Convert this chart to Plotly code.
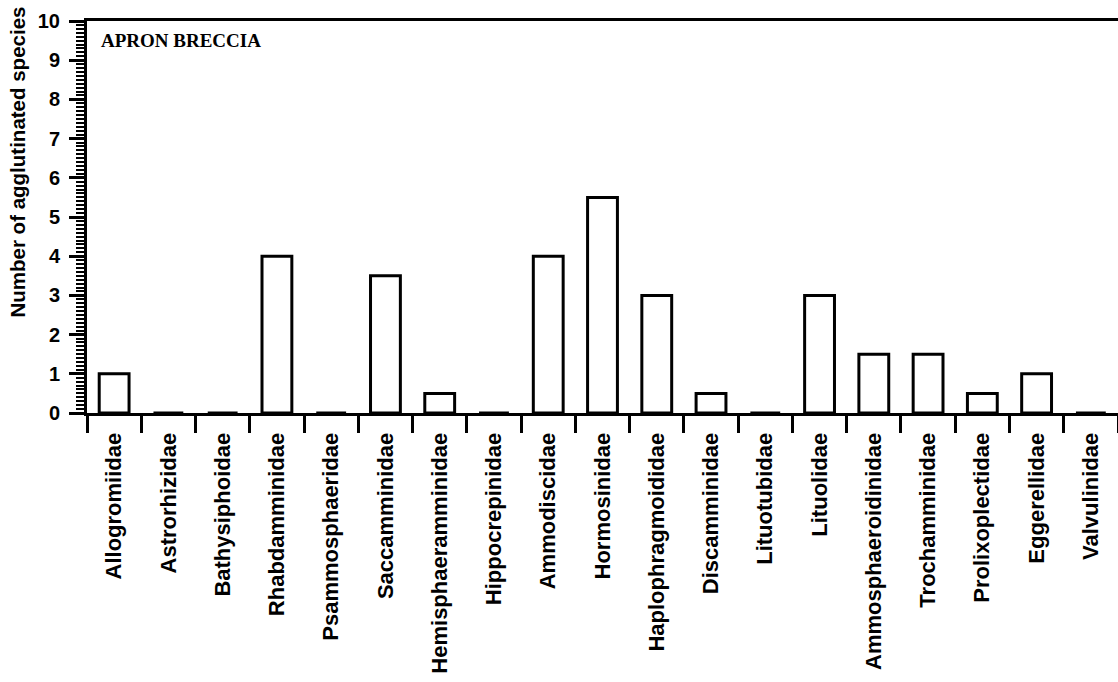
import plotly.graph_objects as go

# Agglutinated foraminifera families and species counts (apron breccia)
families = [
    "Allogromiidae", "Astrorhizidae", "Bathysiphoidae", "Rhabdamminidae",
    "Psammosphaeridae", "Saccamminidae", "Hemisphaeramminidae", "Hippocrepinidae",
    "Ammodiscidae", "Hormosinidae", "Haplophragmoididae", "Discamminidae",
    "Lituotubidae", "Lituolidae", "Ammosphaeroidinidae", "Trochamminidae",
    "Prolixoplectidae", "Eggerellidae", "Valvulinidae",
]
species_counts = [1, 0, 0, 4, 0, 3.5, 0.5, 0, 4, 5.5, 3, 0.5, 0, 3, 1.5, 1.5, 0.5, 1, 0]
y_ticks = list(range(0, 11))

SANS = "Liberation Sans, Arial, Helvetica, sans-serif"
SERIF = "Liberation Serif, Times New Roman, serif"

fig = go.Figure(
    go.Bar(
        x=families,
        y=species_counts,
        width=0.55,
        marker=dict(color="white", line=dict(color="black", width=3)),
        hoverinfo="x+y",
    )
)

fig.update_layout(
    width=1118,
    height=682,
    margin=dict(l=87, r=0, t=21, b=269),
    paper_bgcolor="white",
    plot_bgcolor="white",
    showlegend=False,
    font=dict(family=SANS, color="black"),
)

fig.update_xaxes(
    type="category",
    range=[-0.5, 18.5],
    showline=True,
    linecolor="black",
    linewidth=3,
    mirror=True,
    ticks="outside",
    tickson="boundaries",
    ticklen=17,
    tickwidth=3,
    tickcolor="black",
    tickangle=-90,
    ticklabelstandoff=8,
    tickfont=dict(family=SANS, size=22, color="black", weight="bold"),
    showgrid=False,
    zeroline=False,
)

fig.update_yaxes(
    range=[0, 10],
    tickvals=y_ticks,
    ticktext=[str(v) for v in y_ticks],
    showline=True,
    linecolor="black",
    linewidth=3,
    ticks="outside",
    ticklen=15,
    tickwidth=3,
    tickcolor="black",
    minor=dict(dtick=0.1, ticks="outside", ticklen=8, tickwidth=2, tickcolor="black", showgrid=False),
    ticklabelstandoff=5,
    tickfont=dict(family=SANS, size=20, color="black", weight="bold"),
    showgrid=False,
    zeroline=False,
)

# Axis title placed beside the y axis
fig.add_annotation(
    text="Number of agglutinated species",
    xref="paper", yref="paper",
    x=-0.0675, y=0.64,
    xanchor="center", yanchor="middle",
    textangle=-90,
    showarrow=False,
    font=dict(family=SANS, size=20.5, color="black", weight="bold"),
)

# Panel label
fig.add_annotation(
    text="APRON BRECCIA",
    xref="paper", yref="paper",
    x=0.0115, y=0.982,
    xanchor="left", yanchor="top",
    showarrow=False,
    font=dict(family=SERIF, size=19, color="black", weight="bold"),
)

fig.write_html("out.html")
